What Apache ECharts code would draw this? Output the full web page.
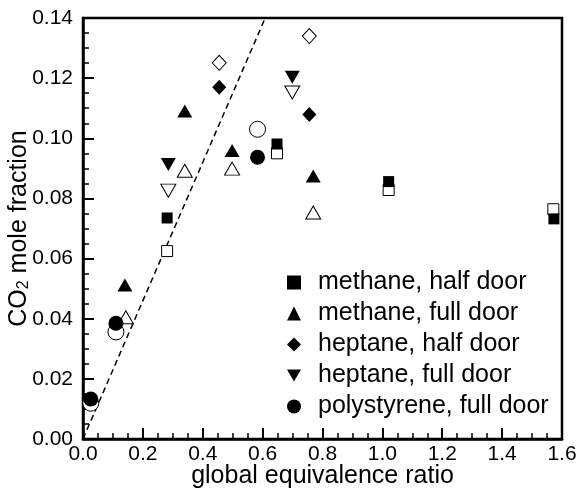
<!DOCTYPE html>
<html>
<head>
    <meta charset="utf-8">
    <title>CO2 mole fraction</title>
    <script src="https://cdn.jsdelivr.net/npm/echarts@6/dist/echarts.min.js"></script>
    <style>
        html,body{
            height: 100%;
            margin: 0;
            padding: 0;
            background: #fff;
        }
    </style>
</head>
<body>
    <div id="main" style="width: 580px;height:489px;"></div>
    <script type="text/javascript">
    // data: [global equivalence ratio, CO2 mole fraction]
    var methaneHalf     = [[0.281,0.0735],[0.648,0.0981],[1.021,0.0856],[1.573,0.0732]];
    var methaneHalfOpen = [[0.281,0.0625],[0.648,0.0950],[1.021,0.0828],[1.571,0.0764]];
    var methaneFull     = [[0.140,0.0512],[0.340,0.1091],[0.498,0.0959],[0.769,0.0875]];
    var methaneFullOpen = [[0.143,0.0405],[0.340,0.0892],[0.498,0.0899],[0.769,0.0753]];
    var heptaneHalf     = [[0.455,0.1170],[0.756,0.1079]];
    var heptaneHalfOpen = [[0.455,0.1251],[0.756,0.1340]];
    var heptaneFull     = [[0.285,0.0913],[0.699,0.1203]];
    var heptaneFullOpen = [[0.285,0.0826],[0.699,0.1152]];
    var polystyrene     = [[0.026,0.0133],[0.110,0.0385],[0.583,0.0937]];
    var polystyreneOpen = [[0.026,0.0119],[0.110,0.0356],[0.583,0.1030]];
    var dashedLine      = [[0,0],[0.6087,0.14]];

    var names = ['methane, half door','methane, full door','heptane, half door','heptane, full door','polystyrene, full door'];
    var downTri = 'path://M0,0 L10,0 L5,8.7 Z';
    var font = 'Liberation Sans';

    function filled(name, data, symbol, size){
        return {
            name: name, type: 'scatter', data: data,
            symbol: symbol, symbolSize: size, z: 4,
            itemStyle: {color: '#000', opacity: 1}
        };
    }
    function hollow(name, data, symbol, size){
        return {
            name: name + ' (open)', type: 'scatter', data: data,
            symbol: symbol, symbolSize: size, z: 3,
            itemStyle: {color: '#fff', borderColor: '#000', borderWidth: 1, opacity: 1}
        };
    }

    var myChart = echarts.init(document.getElementById('main'));

    var option = {
        animation: false,
        backgroundColor: '#fff',
        textStyle: {fontFamily: font},
        grid: {
            left: 83, right: 18, top: 18, bottom: 50,
            outerBoundsMode: 'none',
            show: true, borderColor: '#000', borderWidth: 2.5
        },
        legend: {
            orient: 'vertical',
            left: 282, top: 265,
            itemWidth: 14, itemHeight: 14, itemGap: 6,
            selectedMode: false,
            data: names,
            textStyle: {fontFamily: font, fontSize: 25, color: '#000', padding: [0,0,0,12]}
        },
        xAxis: {
            type: 'value', min: 0, max: 1.6, interval: 0.2,
            name: 'global equivalence ratio',
            nameLocation: 'middle', nameGap: 25, nameMoveOverlap: false,
            nameTextStyle: {fontFamily: font, fontSize: 25, color: '#000'},
            axisLine: {show: true, onZero: false, lineStyle: {color: '#000', width: 2.5}},
            axisTick: {inside: true, length: 11, lineStyle: {color: '#000', width: 2}},
            minorTick: {show: true, splitNumber: 4, length: 6, lineStyle: {color: '#000', width: 1.5}},
            splitLine: {show: false},
            axisLabel: {
                margin: 5, fontFamily: font, fontSize: 21, color: '#000',
                formatter: function(v){ return v.toFixed(1); }
            }
        },
        yAxis: {
            type: 'value', min: 0, max: 0.14, interval: 0.02,
            name: '{a|CO}{b|2}{a| mole fraction}',
            nameLocation: 'middle', nameGap: 51, nameRotate: 90, nameMoveOverlap: false,
            nameTextStyle: {
                color: '#000',
                rich: {
                    a: {fontFamily: font, fontSize: 25, color: '#000'},
                    b: {fontFamily: font, fontSize: 16, color: '#000', verticalAlign: 'bottom'}
                }
            },
            axisLine: {show: true, onZero: false, lineStyle: {color: '#000', width: 2.5}},
            axisTick: {inside: true, length: 11, lineStyle: {color: '#000', width: 2}},
            minorTick: {show: true, splitNumber: 4, length: 6, lineStyle: {color: '#000', width: 1.5}},
            splitLine: {show: false},
            axisLabel: {
                margin: 10, fontFamily: font, fontSize: 21, color: '#000',
                formatter: function(v){ return v.toFixed(2); }
            }
        },
        series: [
            {
                name: 'stoichiometric', type: 'line', data: dashedLine,
                symbol: 'none', z: 2, silent: true,
                lineStyle: {color: '#000', width: 1.5, type: [6,4]}
            },
            hollow(names[0], methaneHalfOpen, 'rect', 11),
            hollow(names[1], methaneFullOpen, 'triangle', [15,13]),
            hollow(names[2], heptaneHalfOpen, 'diamond', [14,15]),
            hollow(names[3], heptaneFullOpen, downTri, [15,13]),
            hollow(names[4], polystyreneOpen, 'circle', 16),
            filled(names[0], methaneHalf, 'rect', 11),
            filled(names[1], methaneFull, 'triangle', [15,13]),
            filled(names[2], heptaneHalf, 'diamond', [14,15]),
            filled(names[3], heptaneFull, downTri, [15,13]),
            filled(names[4], polystyrene, 'circle', 15)
        ]
    };

    myChart.setOption(option);
    </script>
</body>
</html>
